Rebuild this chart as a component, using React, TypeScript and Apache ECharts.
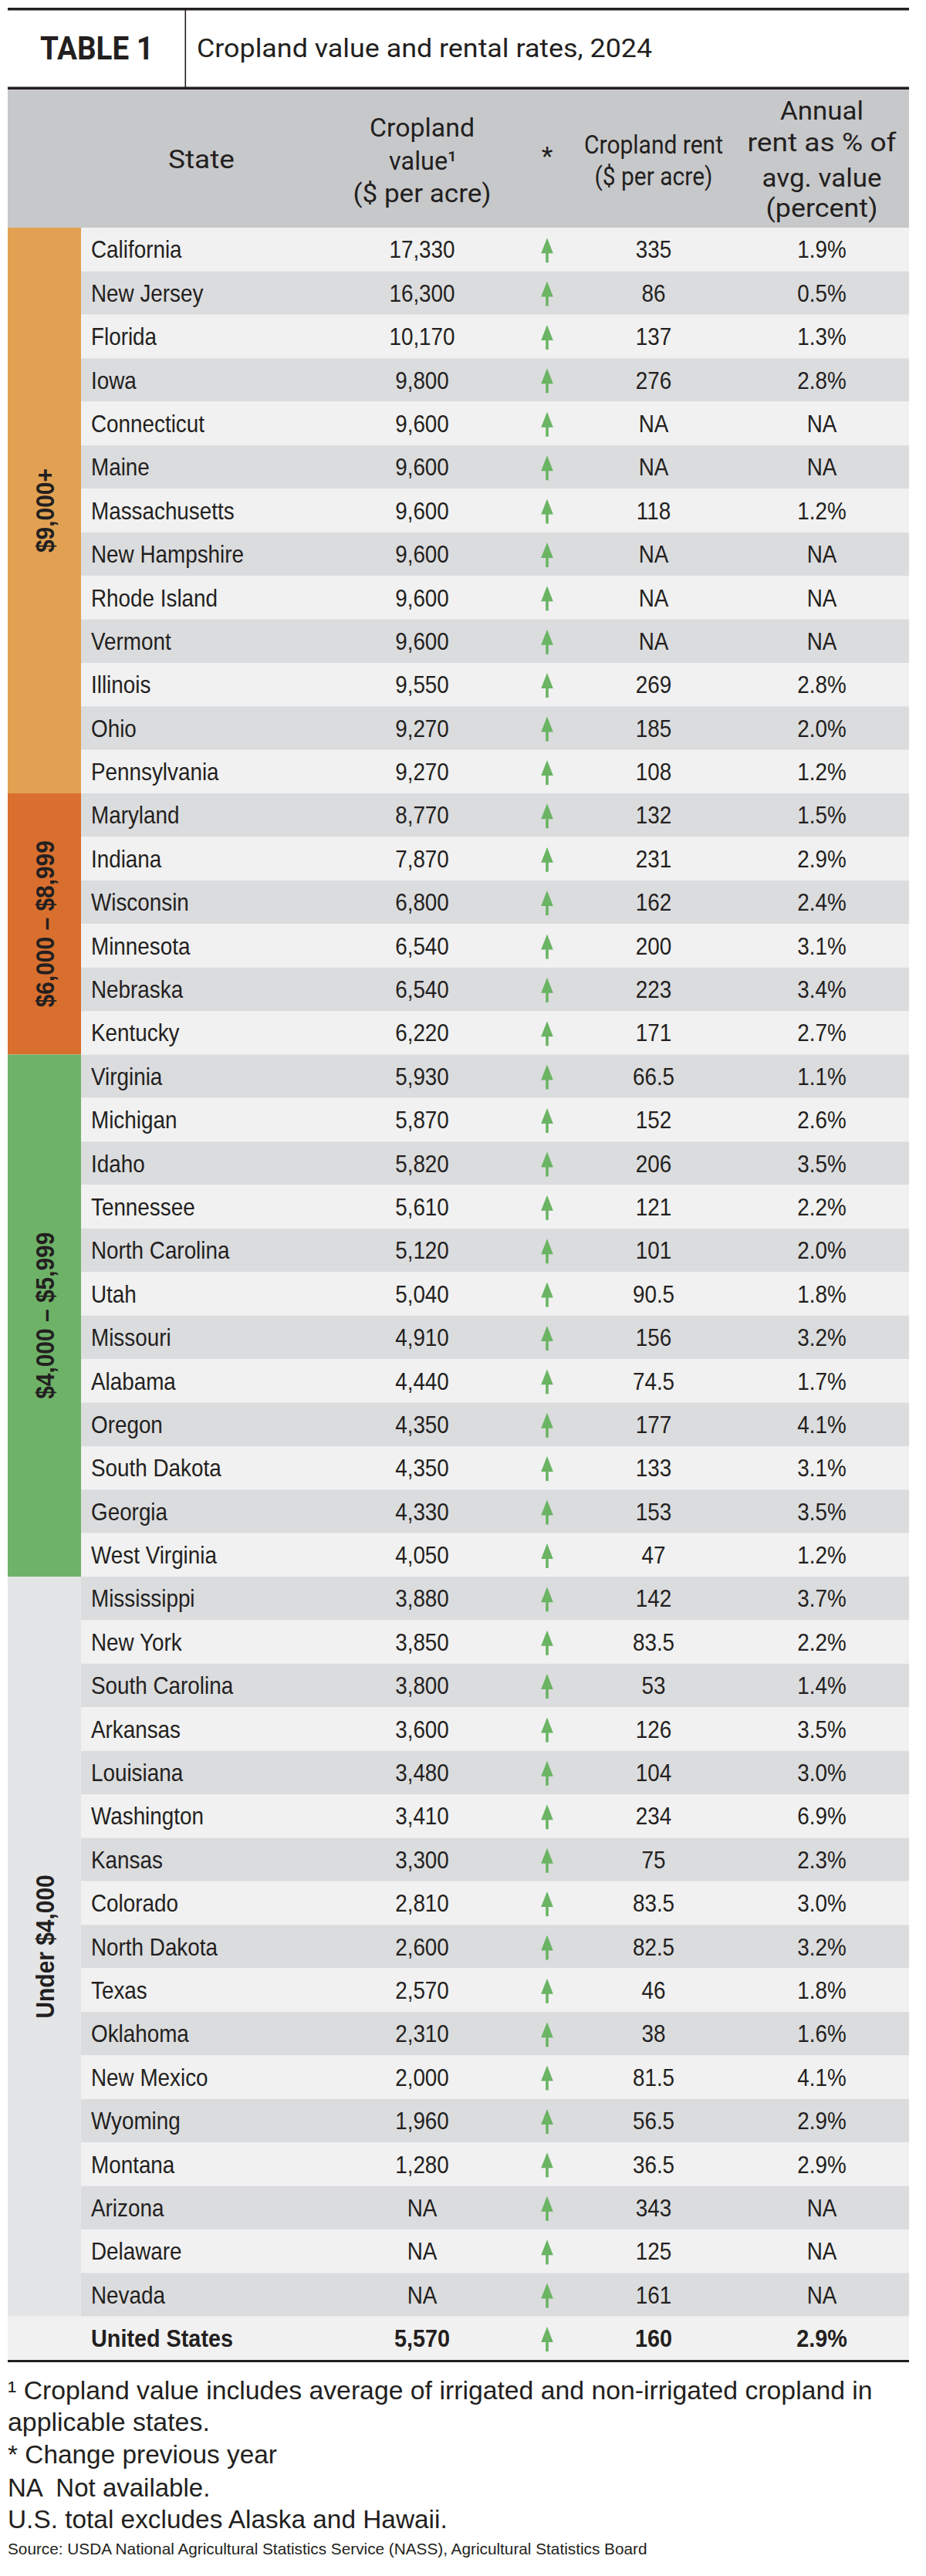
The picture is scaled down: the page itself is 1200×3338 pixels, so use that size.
import React, { useEffect, useRef } from 'react';
import * as echarts from 'echarts';

// ---------------- DATA ----------------
const states = [
  'California', 'New Jersey', 'Florida', 'Iowa', 'Connecticut', 'Maine', 'Massachusetts',
  'New Hampshire', 'Rhode Island', 'Vermont', 'Illinois', 'Ohio', 'Pennsylvania',
  'Maryland', 'Indiana', 'Wisconsin', 'Minnesota', 'Nebraska', 'Kentucky',
  'Virginia', 'Michigan', 'Idaho', 'Tennessee', 'North Carolina', 'Utah', 'Missouri',
  'Alabama', 'Oregon', 'South Dakota', 'Georgia', 'West Virginia',
  'Mississippi', 'New York', 'South Carolina', 'Arkansas', 'Louisiana', 'Washington',
  'Kansas', 'Colorado', 'North Dakota', 'Texas', 'Oklahoma', 'New Mexico', 'Wyoming',
  'Montana', 'Arizona', 'Delaware', 'Nevada', 'United States',
];

// Cropland value ($ per acre); null = NA
const croplandValue: (number | null)[] = [
  17330, 16300, 10170, 9800, 9600, 9600, 9600, 9600, 9600, 9600, 9550, 9270, 9270,
  8770, 7870, 6800, 6540, 6540, 6220,
  5930, 5870, 5820, 5610, 5120, 5040, 4910, 4440, 4350, 4350, 4330, 4050,
  3880, 3850, 3800, 3600, 3480, 3410, 3300, 2810, 2600, 2570, 2310, 2000, 1960, 1280,
  null, null, null,
  5570,
];

// Change from previous year: 1 = up
const changeDir = [
  1, 1, 1, 1, 1, 1, 1, 1, 1, 1, 1, 1, 1,
  1, 1, 1, 1, 1, 1,
  1, 1, 1, 1, 1, 1, 1, 1, 1, 1, 1, 1,
  1, 1, 1, 1, 1, 1, 1, 1, 1, 1, 1, 1, 1, 1, 1, 1, 1,
  1,
];

// Cropland rent ($ per acre)
const croplandRent: (number | null)[] = [
  335, 86, 137, 276, null, null, 118, null, null, null, 269, 185, 108,
  132, 231, 162, 200, 223, 171,
  66.5, 152, 206, 121, 101, 90.5, 156, 74.5, 177, 133, 153, 47,
  142, 83.5, 53, 126, 104, 234, 75, 83.5, 82.5, 46, 38, 81.5, 56.5, 36.5, 343, 125, 161,
  160,
];

// Annual rent as % of avg. value
const rentPct: (number | null)[] = [
  1.9, 0.5, 1.3, 2.8, null, null, 1.2, null, null, null, 2.8, 2.0, 1.2,
  1.5, 2.9, 2.4, 3.1, 3.4, 2.7,
  1.1, 2.6, 3.5, 2.2, 2.0, 1.8, 3.2, 1.7, 4.1, 3.1, 3.5, 1.2,
  3.7, 2.2, 1.4, 3.5, 3.0, 6.9, 2.3, 3.0, 3.2, 1.8, 1.6, 4.1, 2.9, 2.9, null, null, null,
  2.9,
];

const groupLabels = ['$9,000+', '$6,000 – $8,999', '$4,000 – $5,999', 'Under $4,000'];
const groupStart = [0, 13, 19, 31];
const groupEnd = [12, 18, 30, 47];

const titleTag = 'TABLE 1';
const titleText = 'Cropland value and rental rates, 2024';

const footnotes = [
  '¹ Cropland value includes average of irrigated and non-irrigated cropland in',
  'applicable states.',
  '* Change previous year',
  'NA  Not available.',
  'U.S. total excludes Alaska and Hawaii.',
];
const sourceNote = 'Source: USDA National Agricultural Statistics Service (NASS), Agricultural Statistics Board';

// ---------------- LAYOUT / STYLE ----------------
const W = 1200;
const H = 3338;
const TABLE_L = 10;
const TABLE_R = 1178;
const GROUP_R = 105;
const ROW_TOP = 295;
const ROW_H = 56.39;
const COL_STATE_X = 118;
const COL_VALUE_X = 547;
const COL_ARROW_X = 709;
const COL_RENT_X = 847;
const COL_PCT_X = 1065;

const TEXT = '#231f20';
const HEADER_BG = '#c7c8ca';
const ROW_LIGHT = '#f1f1f1';
const ROW_DARK = '#dbdcde';
const ARROW_GREEN = '#6ab464';
const groupColors = ['#e2a152', '#d86f2e', '#6eb268', '#e4e5e7'];

const BODY_FONT = '"Liberation Sans", Arial, sans-serif';
const HEAD_FONT = 'Roboto, "Liberation Sans", sans-serif';

const ARROW_POINTS = [
  [0, -15], [7.8, 5], [1.8, 5], [1.8, 17], [-1.8, 17], [-1.8, 5], [-7.8, 5],
];

let measureCtx: CanvasRenderingContext2D | null = null;
function fitScale(text: string, font: string, target: number): number {
  if (!measureCtx) measureCtx = document.createElement('canvas').getContext('2d');
  if (!measureCtx) return 1;
  measureCtx.font = font;
  const w = measureCtx.measureText(text).width;
  return w > 0 ? target / w : 1;
}

function fmtValue(v: number | null): string {
  return v == null ? 'NA' : v.toLocaleString('en-US');
}
function fmtRent(v: number | null): string {
  return v == null ? 'NA' : String(v);
}
function fmtPct(v: number | null): string {
  return v == null ? 'NA' : v.toFixed(1) + '%';
}

function textEl(
  text: string, x: number, y: number, font: string, align: string,
  scaleX = 1, extra: any = {}
) {
  return {
    type: 'text',
    x, y, scaleX,
    ...extra,
    style: {
      text, font, fill: TEXT,
      align, textAlign: align,
      verticalAlign: 'middle', textVerticalAlign: 'middle',
    },
  };
}

function fitText(text: string, x: number, y: number, font: string, align: string, target: number) {
  return textEl(text, x, y, font, align, fitScale(text, font, target));
}

export default function App() {
  const ref = useRef<HTMLDivElement>(null);

  useEffect(() => {
    if (!ref.current) return;
    const chart = echarts.init(ref.current, undefined, { renderer: 'svg' });
    const nRows = states.length;
    const tableBottom = ROW_TOP + nRows * ROW_H;

    const headFont = `34px ${HEAD_FONT}`;
    const graphicEls: any[] = [
      // title band rules
      { type: 'rect', shape: { x: TABLE_L, y: 10, width: TABLE_R - TABLE_L, height: 3.5 }, style: { fill: TEXT } },
      { type: 'rect', shape: { x: 239.5, y: 13, width: 1.6, height: 100 }, style: { fill: TEXT } },
      { type: 'rect', shape: { x: TABLE_L, y: 112.5, width: TABLE_R - TABLE_L, height: 3.5 }, style: { fill: TEXT } },
      // header background
      { type: 'rect', shape: { x: TABLE_L, y: 116, width: TABLE_R - TABLE_L, height: ROW_TOP - 116 }, style: { fill: HEADER_BG } },
      fitText(titleTag, 52, 63, `bold 42px ${HEAD_FONT}`, 'left', 147),
      fitText(titleText, 255, 63, `34px ${HEAD_FONT}`, 'left', 590),
      // column headers
      fitText('State', 261, 207, headFont, 'center', 86),
      fitText('Cropland', COL_VALUE_X, 165, headFont, 'center', 136),
      fitText('value¹', COL_VALUE_X + 1, 208, headFont, 'center', 88),
      fitText('($ per acre)', COL_VALUE_X, 250, headFont, 'center', 179),
      textEl('*', COL_ARROW_X, 202, headFont, 'center'),
      fitText('Cropland rent', COL_RENT_X, 187, headFont, 'center', 180),
      fitText('($ per acre)', COL_RENT_X, 228, headFont, 'center', 153),
      fitText('Annual', COL_PCT_X, 143, headFont, 'center', 108),
      fitText('rent as % of', COL_PCT_X, 185, headFont, 'center', 193),
      fitText('avg. value', COL_PCT_X, 230, headFont, 'center', 155),
      fitText('(percent)', COL_PCT_X, 270, headFont, 'center', 145),
      // bottom rule
      { type: 'rect', shape: { x: TABLE_L, y: tableBottom - 0.5, width: TABLE_R - TABLE_L, height: 3.5 }, style: { fill: TEXT } },
    ];

    const fnFont = `33px ${BODY_FONT}`;
    const fnY = [3098, 3139, 3181, 3223, 3265];
    const fnW = [1121, 262, 349, 264, 572];
    footnotes.forEach((t, k) => {
      graphicEls.push(fitText(t, 10, fnY[k], fnFont, 'left', fnW[k]));
    });
    graphicEls.push(fitText(sourceNote, 10, 3303, `20px ${BODY_FONT}`, 'left', 833));

    const option: any = {
      animation: false,
      backgroundColor: '#ffffff',
      grid: { left: 0, right: 0, top: ROW_TOP, height: nRows * ROW_H, containLabel: false },
      xAxis: { type: 'value', min: 0, max: W, show: false },
      yAxis: { type: 'category', data: states, inverse: true, show: false },
      graphic: { elements: graphicEls },
      series: [
        {
          type: 'custom',
          name: 'groups',
          data: groupLabels.map((_, g) => [g, groupStart[g]]),
          renderItem: (_params: any, api: any) => {
            const g = api.value(0) as number;
            const s = groupStart[g];
            const e = groupEnd[g];
            const h = (api.size([0, 1]) as number[])[1];
            const top = api.coord([0, s])[1] - h / 2;
            const bot = api.coord([0, e])[1] + h / 2;
            const xl = api.coord([TABLE_L, s])[0];
            const xr = api.coord([GROUP_R, s])[0];
            const font = `bold 34px ${BODY_FONT}`;
            return {
              type: 'group',
              children: [
                { type: 'rect', shape: { x: xl, y: top, width: xr - xl, height: bot - top }, style: { fill: groupColors[g] } },
                {
                  type: 'text',
                  x: (xl + xr) / 2 + 1,
                  y: (top + bot) / 2,
                  rotation: Math.PI / 2,
                  scaleX: 0.88,
                  style: {
                    text: groupLabels[g], font, fill: TEXT,
                    align: 'center', textAlign: 'center',
                    verticalAlign: 'middle', textVerticalAlign: 'middle',
                  },
                },
              ],
            };
          },
        },
        {
          type: 'custom',
          name: 'rows',
          data: states.map((_, i) => [0, i]),
          renderItem: (_params: any, api: any) => {
            const i = api.value(1) as number;
            const yc = api.coord([0, i])[1];
            const h = (api.size([0, 1]) as number[])[1];
            const isTotal = i === states.length - 1;
            const x0 = api.coord([isTotal ? TABLE_L : GROUP_R, i])[0];
            const x1 = api.coord([TABLE_R, i])[0];
            const fill = i % 2 === 0 ? ROW_LIGHT : ROW_DARK;
            const font = `${isTotal ? 'bold ' : ''}32px ${BODY_FONT}`;
            const sx = isTotal ? 0.9 : 0.87;
            const cx = (v: number) => api.coord([v, i])[0];
            const children: any[] = [
              { type: 'rect', shape: { x: x0, y: yc - h / 2, width: x1 - x0, height: h }, style: { fill } },
              textEl(states[i], cx(COL_STATE_X), yc, font, 'left', sx),
              textEl(fmtValue(croplandValue[i]), cx(COL_VALUE_X), yc, font, 'center', sx),
              textEl(fmtRent(croplandRent[i]), cx(COL_RENT_X), yc, font, 'center', sx),
              textEl(fmtPct(rentPct[i]), cx(COL_PCT_X), yc, font, 'center', sx),
            ];
            if (changeDir[i] === 1) {
              children.push({
                type: 'polygon',
                x: cx(COL_ARROW_X),
                y: yc,
                shape: { points: ARROW_POINTS },
                style: { fill: ARROW_GREEN },
              });
            }
            return { type: 'group', children };
          },
        },
      ],
    };

    chart.setOption(option);
    return () => chart.dispose();
  }, []);

  return (
    <div
      ref={ref}
      style={{ position: 'absolute', left: 0, top: 0, width: W, height: H, background: '#fff' }}
    />
  );
}
